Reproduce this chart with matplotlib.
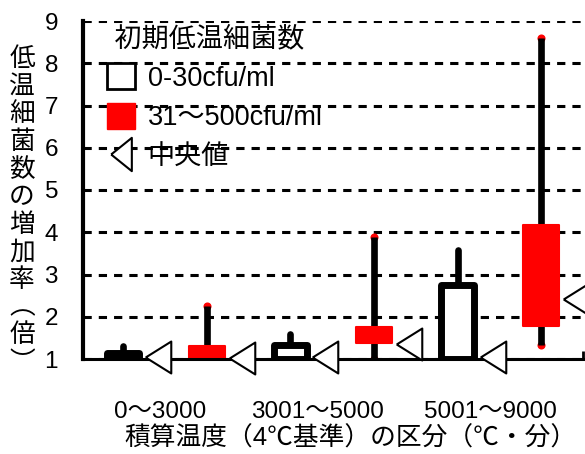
import matplotlib
matplotlib.use('Agg')
import matplotlib.pyplot as plt
from matplotlib.patches import Patch
from matplotlib.lines import Line2D

plt.rcParams['font.family'] = ['Liberation Sans', 'Noto Sans CJK JP', 'DejaVu Sans']

# 積算温度の区分ごと、初期低温細菌数 2 区分の増加率（倍）
groups = ['0～3000', '3001～5000', '5001～9000']
series = ['0-30cfu/ml', '31～500cfu/ml']

# 各区分 [0-30, 31-500] の順
low_vals = [1.00, 1.00, 1.00, 1.00, 1.00, 1.33]
q1_vals = [1.00, 1.00, 1.00, 1.38, 1.00, 1.78]
q3_vals = [1.15, 1.31, 1.34, 1.75, 2.74, 4.18]
high_vals = [1.30, 2.25, 1.59, 3.88, 3.59, 8.60]
median_vals = [1.04, 1.02, 1.04, 1.35, 1.05, 2.42]

FS = 17.5
JFS = 18.5
tri = [(-0.8, 0), (0.8, 1), (0.8, -1), (-0.8, 0)]
tri_leg = [(-0.62, 0), (0.62, 1), (0.62, -1), (-0.62, 0)]

fig = plt.figure(figsize=(5.85, 4.54), dpi=100)
ax = fig.add_axes([83 / 585, 1 - 359 / 454, 500 / 585, 338 / 454])

for i in range(len(q1_vals)):
    x = i
    red = (i % 2 == 1)
    if red:
        ax.plot([x, x], [low_vals[i], high_vals[i]], 'o', color='red', ms=4.8,
                zorder=2)
        ax.plot([x, x], [low_vals[i], high_vals[i]], color='black', lw=4.8,
                solid_capstyle='butt', zorder=2.5)
        ax.bar(x, q3_vals[i] - q1_vals[i], bottom=q1_vals[i], width=0.43,
               facecolor='red', edgecolor='red', lw=1.5, joinstyle='round',
               zorder=3)
    else:
        ax.plot([x, x], [low_vals[i], high_vals[i]], color='black', lw=4.8,
                solid_capstyle='round', zorder=2.5)
        ax.bar(x, q3_vals[i] - q1_vals[i], bottom=q1_vals[i], width=0.39,
               facecolor='white', edgecolor='black', lw=5, joinstyle='round',
               zorder=3)
    ax.plot(x + 0.42, median_vals[i], marker=tri, ms=23, mfc='white',
            mec='black', mew=1.5, ls='none', zorder=4, clip_on=False)

ax.set_xlim(-0.48, 5.5)
ax.set_ylim(1, 9)
ax.set_yticks(range(1, 10))
ax.grid(axis='y', color='black', lw=2.2, linestyle=(0, (2.7, 2.3)))
ax.set_axisbelow(True)
for s in ['top', 'right']:
    ax.spines[s].set_visible(False)
ax.spines['left'].set_linewidth(3)
ax.spines['bottom'].set_linewidth(2.2)
ax.spines['bottom'].set_zorder(3.5)
ax.tick_params(axis='y', length=0, pad=18, labelsize=FS)

ax.set_xticks([0.44, 2.32, 4.39], groups)
ax.tick_params(axis='x', length=0, pad=30, labelsize=FS)
ax.set_xticks([5.5], minor=True)
ax.tick_params(axis='x', which='minor', direction='in', length=6, width=2)
ax.set_xlabel('積算温度（4℃基準）の区分（℃・分）', fontsize=JFS)
ax.xaxis.set_label_coords(0.534, -0.197)

ylabel = '低温細菌数の増加率︵倍︶'
fig.text(22 / 585, 1 - 211 / 454, '\n'.join(ylabel), fontsize=JFS,
         ha='center', va='center', linespacing=1.19)

handles = [Patch(facecolor='white', edgecolor='black', lw=2),
           Patch(facecolor='red', edgecolor='red'),
           Line2D([], [], marker=tri_leg, ms=24, mfc='white', mec='black',
                  mew=1.5, ls='none')]
leg = ax.legend(handles, series + ['中央値'], title=' 初期低温細菌数',
                loc='upper left', bbox_to_anchor=(24 / 500, 333 / 338),
                frameon=False, fontsize=19.5, title_fontsize=19.5,
                borderpad=0, borderaxespad=0, handlelength=1.05,
                handleheight=1.1, handletextpad=0.45, labelspacing=0.42,
                alignment='left')

fig.savefig('out.png', dpi=100)
